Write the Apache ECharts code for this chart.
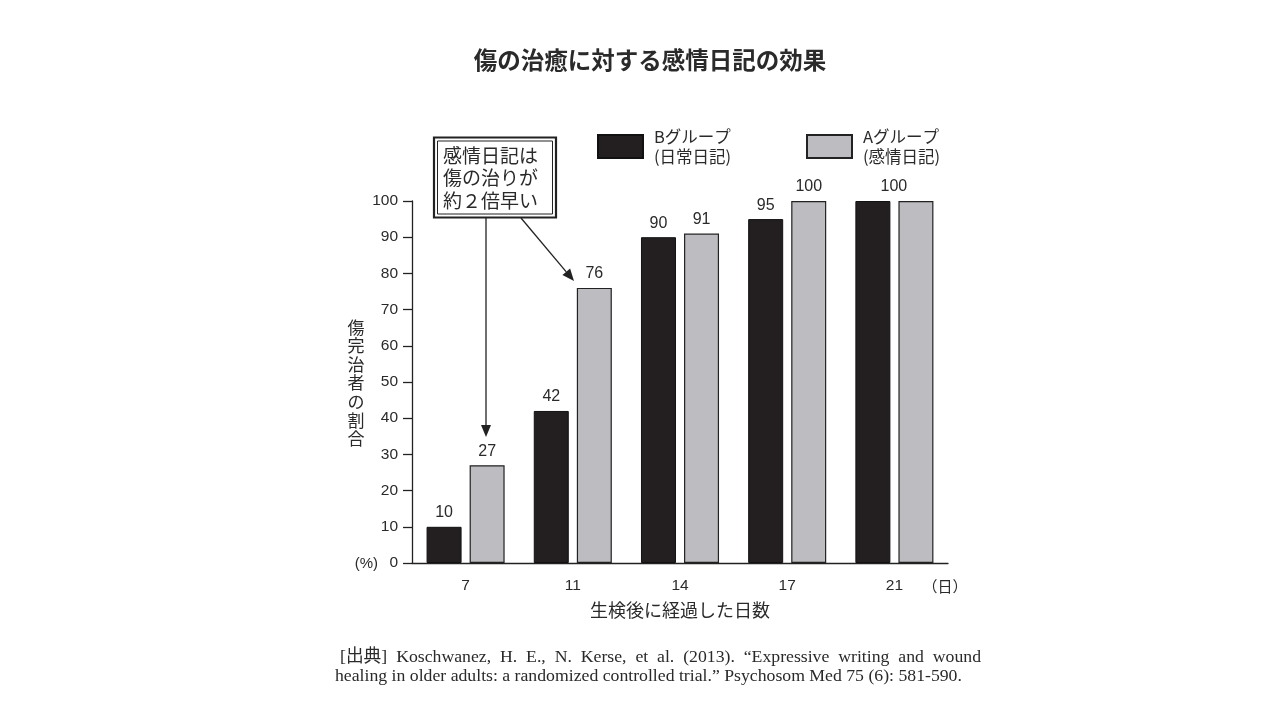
<!DOCTYPE html>
<html><head><meta charset="utf-8">
<script src="https://cdn.jsdelivr.net/npm/echarts@6/dist/echarts.min.js"></script>
<style>html,body{margin:0;padding:0;background:#fff}#c{width:1280px;height:720px}</style>
</head><body><div id="c"></div>
<script>
const categories = ['7', '11', '14', '17', '21'];
const groupB = [10, 42, 90, 95, 100];
const groupA = [27, 76, 91, 100, 100];
const yTicks = [0, 10, 20, 30, 40, 50, 60, 70, 80, 90, 100];
const nameB = 'Bグループ\n(日常日記)';
const nameA = 'Aグループ\n(感情日記)';
const titleText = '傷の治癒に対する感情日記の効果';
const yName = '傷完治者の割合';
const xName = '生検後に経過した日数';
const noteLines = ['感情日記は', '傷の治りが', '約２倍早い'];
const cite1 = '[出典] Koschwanez, H. E., N. Kerse, et al. (2013). “Expressive writing and wound';
const cite2 = 'healing in older adults: a randomized controlled trial.” Psychosom Med 75 (6): 581-590.';

const JP = '"Noto Sans CJK JP", "Noto Sans", sans-serif';
const NUM = '"Liberation Sans", Arial, sans-serif';
const SERIF = '"Liberation Serif", "DejaVu Serif", "Noto Sans CJK JP", serif';
const TXT = '#2a2a2a';

const chart = echarts.init(document.getElementById('c'));

// citation: font size fitted so line 2 spans its width; line 1 justified
const cv = document.createElement('canvas').getContext('2d');
cv.font = '100px ' + SERIF;
const citeSize = Math.min(18, 100 * 627 / cv.measureText(cite2).width);
cv.font = citeSize + 'px ' + SERIF;
function justified(line, x0, x1, y) {
  const words = line.split(' ');
  const widths = words.map(w => cv.measureText(w).width);
  const total = widths.reduce((a, b) => a + b, 0);
  const gap = (x1 - x0 - total) / (words.length - 1);
  let x = x0; const out = [];
  words.forEach((w, i) => {
    out.push({type: 'text', x: x, y: y, style: {text: w, font: citeSize + 'px ' + SERIF, fill: TXT, verticalAlign: 'middle'}});
    x += widths[i] + gap;
  });
  return out;
}

function arrow(x0, y0, x1, y1) {
  const ang = Math.atan2(y1 - y0, x1 - x0);
  const L = 12, W = 5;
  const bx = x1 - L * Math.cos(ang), by = y1 - L * Math.sin(ang);
  const px = -Math.sin(ang) * W, py = Math.cos(ang) * W;
  return [
    {type: 'line', shape: {x1: x0, y1: y0, x2: bx, y2: by}, style: {stroke: '#222', lineWidth: 1.3}},
    {type: 'polygon', shape: {points: [[x1, y1], [bx + px, by + py], [bx - px, by - py]]}, style: {fill: '#222'}}
  ];
}

const graphics = [
  {type: 'text', x: 650, y: 60, style: {text: titleText, font: 'bold 23.5px ' + JP, fill: TXT, align: 'center', verticalAlign: 'middle'}},
  {type: 'text', x: 356, y: 383, style: {text: yName.split('').join('\n'), font: '17px ' + JP, lineHeight: 18.6, fill: TXT, align: 'center', verticalAlign: 'middle'}},
  {type: 'text', x: 378, y: 564, style: {text: '(%)', font: '15px ' + NUM, fill: TXT, align: 'right', verticalAlign: 'middle'}},
  {type: 'text', x: 945, y: 586, style: {text: '（日）', font: '15px ' + JP, fill: TXT, align: 'center', verticalAlign: 'middle'}},
  {type: 'rect', shape: {x: 434, y: 137.5, width: 122, height: 80}, style: {fill: '#fff', stroke: '#222', lineWidth: 2.2}},
  {type: 'rect', shape: {x: 437.5, y: 141, width: 115, height: 73}, style: {fill: 'none', stroke: '#222', lineWidth: 1}},
  {type: 'text', x: 443, y: 178, style: {text: noteLines.join('\n'), font: '19px ' + JP, lineHeight: 22.5, fill: TXT, align: 'left', verticalAlign: 'middle'}},
  ...arrow(486, 218, 486, 437),
  ...arrow(521, 218, 574, 281),
  ...justified(cite1, 340, 981, 657),
  {type: 'text', x: 335, y: 676, style: {text: cite2, font: citeSize + 'px ' + SERIF, fill: TXT, verticalAlign: 'middle'}}
];

const labelCommon = {show: true, position: 'top', distance: 6, fontSize: 16, color: TXT, fontFamily: NUM};

chart.setOption({
  animation: false,
  backgroundColor: '#fff',
  textStyle: {fontFamily: JP},
  grid: {left: 412, right: 332, top: 201, bottom: 157, containLabel: false},
  legend: [
    {data: [{name: nameB, icon: 'rect'}], left: 597, top: 127, itemWidth: 45, itemHeight: 23, padding: 0, selectedMode: false,
     textStyle: {fontSize: 16.5, lineHeight: 19.5, color: TXT, fontFamily: JP, padding: [0, 0, 0, 6]}},
    {data: [{name: nameA, icon: 'rect'}], left: 806, top: 127, itemWidth: 45, itemHeight: 23, padding: 0, selectedMode: false,
     textStyle: {fontSize: 16.5, lineHeight: 19.5, color: TXT, fontFamily: JP, padding: [0, 0, 0, 6]}}
  ],
  xAxis: {
    type: 'category', data: categories,
    name: xName, nameLocation: 'middle', nameGap: 38,
    nameTextStyle: {fontSize: 18, color: TXT, fontFamily: JP},
    axisLine: {lineStyle: {color: '#222', width: 1.3}},
    axisTick: {alignWithLabel: true, length: 7, lineStyle: {color: '#222', width: 1.3}},
    axisLabel: {fontSize: 15.5, color: TXT, fontFamily: NUM, margin: 15}
  },
  yAxis: {
    type: 'value', min: 0, max: 100, interval: 10,
    axisLine: {show: true, lineStyle: {color: '#222', width: 1.3}},
    axisTick: {show: true, length: 9, lineStyle: {color: '#222', width: 1.3}},
    splitLine: {show: false},
    axisLabel: {fontSize: 15.5, color: TXT, fontFamily: NUM, margin: 14,
      formatter: v => yTicks.indexOf(v) >= 0 ? String(v) : ''}
  },
  series: [
    {name: nameB, type: 'bar', barWidth: 35, barGap: '23%',
     data: groupB.map((v, i) => i === groupB.length - 1 ? {value: v, label: {show: false}} : v),
     itemStyle: {color: '#231f20', borderColor: '#111', borderWidth: 1},
     label: labelCommon},
    {name: nameA, type: 'bar', barWidth: 35, barGap: '23%',
     data: groupA.map((v, i) => i === groupA.length - 1 ? {value: v, label: {offset: [-22, 0]}} : v),
     itemStyle: {color: '#bdbdc1', borderColor: '#222', borderWidth: 1.2},
     label: labelCommon}
  ],
  graphic: graphics
});
</script></body></html>
